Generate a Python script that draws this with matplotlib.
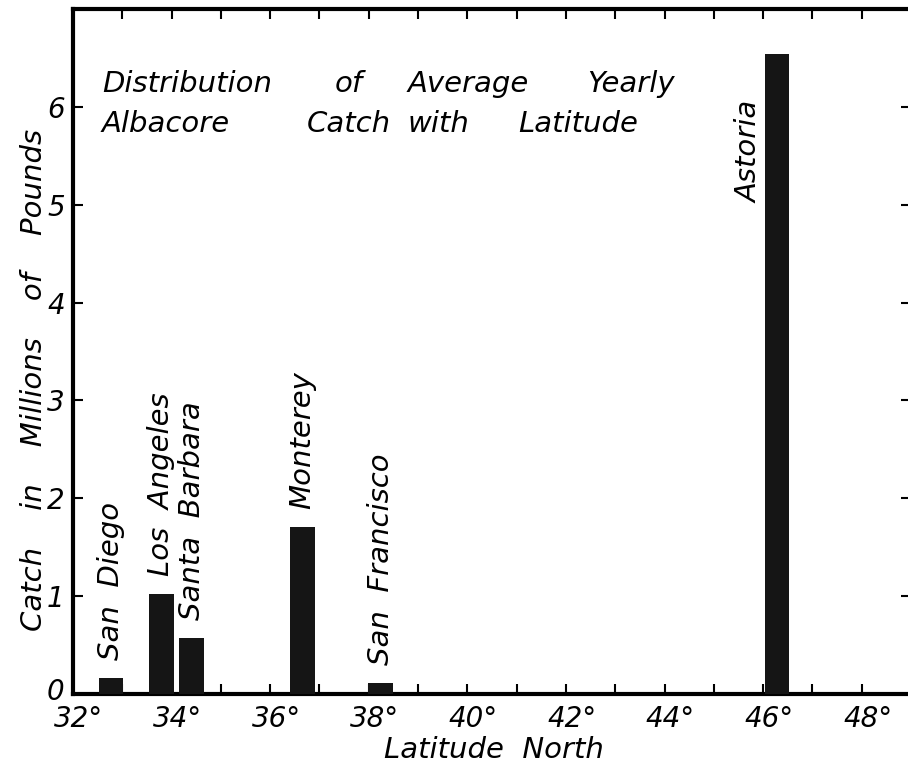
import numpy as np
import matplotlib
matplotlib.use("Agg")
from matplotlib import pyplot as plt
from matplotlib.ticker import MultipleLocator
from matplotlib.transforms import ScaledTranslation

# ports, latitude of each bar (deg N) and average yearly catch (millions of lb)
ports = ["San  Diego", "Los  Angeles", "Santa  Barbara", "Monterey",
         "San  Francisco", "Astoria"]
latitude = [32.77, 33.79, 34.41, 36.65, 38.24, 46.28]
catch = [0.16, 1.02, 0.57, 1.71, 0.11, 6.54]

x_ticks = [32, 34, 36, 38, 40, 42, 44, 46, 48]
x_tick_labels = ["32°", "34°", "36°", "38°", "40°", "42°", "44°", "46°", "48°"]
y_ticks = [0, 1, 2, 3, 4, 5, 6]

title_line1 = ["Distribution", "of", "Average", "Yearly"]
title_line2 = ["Albacore", "Catch", "with", "Latitude"]

W, H = 908, 767
font = dict(family="DejaVu Sans", style="italic", fontsize=21)
tick_font = dict(family="DejaVu Sans", style="italic", fontsize=20)

fig = plt.figure(figsize=(W / 100, H / 100), dpi=100)
ax = fig.add_axes([73 / W, 1 - 694 / H, (911 - 73) / W, (694 - 9) / H])

ax.bar(latitude, catch, width=0.5, color="#151515", edgecolor="none", zorder=3)

ax.set_xlim(32, 49)
ax.set_ylim(0, 7)

ax.xaxis.set_minor_locator(MultipleLocator(1))
ax.set_xticks(x_ticks)
ax.set_xticklabels(x_tick_labels, **tick_font)
ax.set_yticks(y_ticks)
ax.set_yticklabels([str(v) for v in y_ticks], **tick_font)

ax.tick_params(axis="both", which="both", direction="in", length=7, width=1.5,
               top=True, right=True, color="black")
ax.tick_params(axis="x", which="major", pad=8)
ax.tick_params(axis="y", which="major", pad=6)

# the degree sign hangs to the right of the tick in the original lettering
shift = ScaledTranslation(6 / 100, 0, fig.dpi_scale_trans)
for lab in ax.get_xticklabels():
    lab.set_transform(lab.get_transform() + shift)
# lift the "0" a touch so it clears "32°"
zero = ax.get_yticklabels()[0]
zero.set_transform(zero.get_transform() + ScaledTranslation(0, 5 / 100, fig.dpi_scale_trans))

for s in ["left", "bottom", "top"]:
    ax.spines[s].set_linewidth(3)
ax.spines["right"].set_visible(False)

# port names written up from the bar tops
for name, lat, val in zip(ports[:-1], latitude[:-1], catch[:-1]):
    ax.annotate(name, (lat, val), xytext=(0, 13), textcoords="offset points",
                rotation=90, ha="center", va="bottom", **font)
# Astoria sits beside its bar
ax.text(latitude[-1] - 0.55, 6.06, ports[-1], rotation=90, ha="center",
        va="top", **font)

# title in two lettered lines inside the frame
for word, px in zip(title_line1, [102, 335, 408, 587]):
    fig.text(px / W, 1 - 92 / H, word, ha="left", va="baseline", **font)
for word, px in zip(title_line2, [102, 307, 408, 518]):
    fig.text(px / W, 1 - 132 / H, word, ha="left", va="baseline", **font)

fig.text(494 / W, 1 - 758 / H, "Latitude  North", ha="center",
         va="baseline", **font)
fig.text(34 / W, 1 - 380 / H, "Catch    in    Millions    of    Pounds",
         rotation=90, ha="center", va="center", **font)

fig.savefig("out.png", dpi=100)
